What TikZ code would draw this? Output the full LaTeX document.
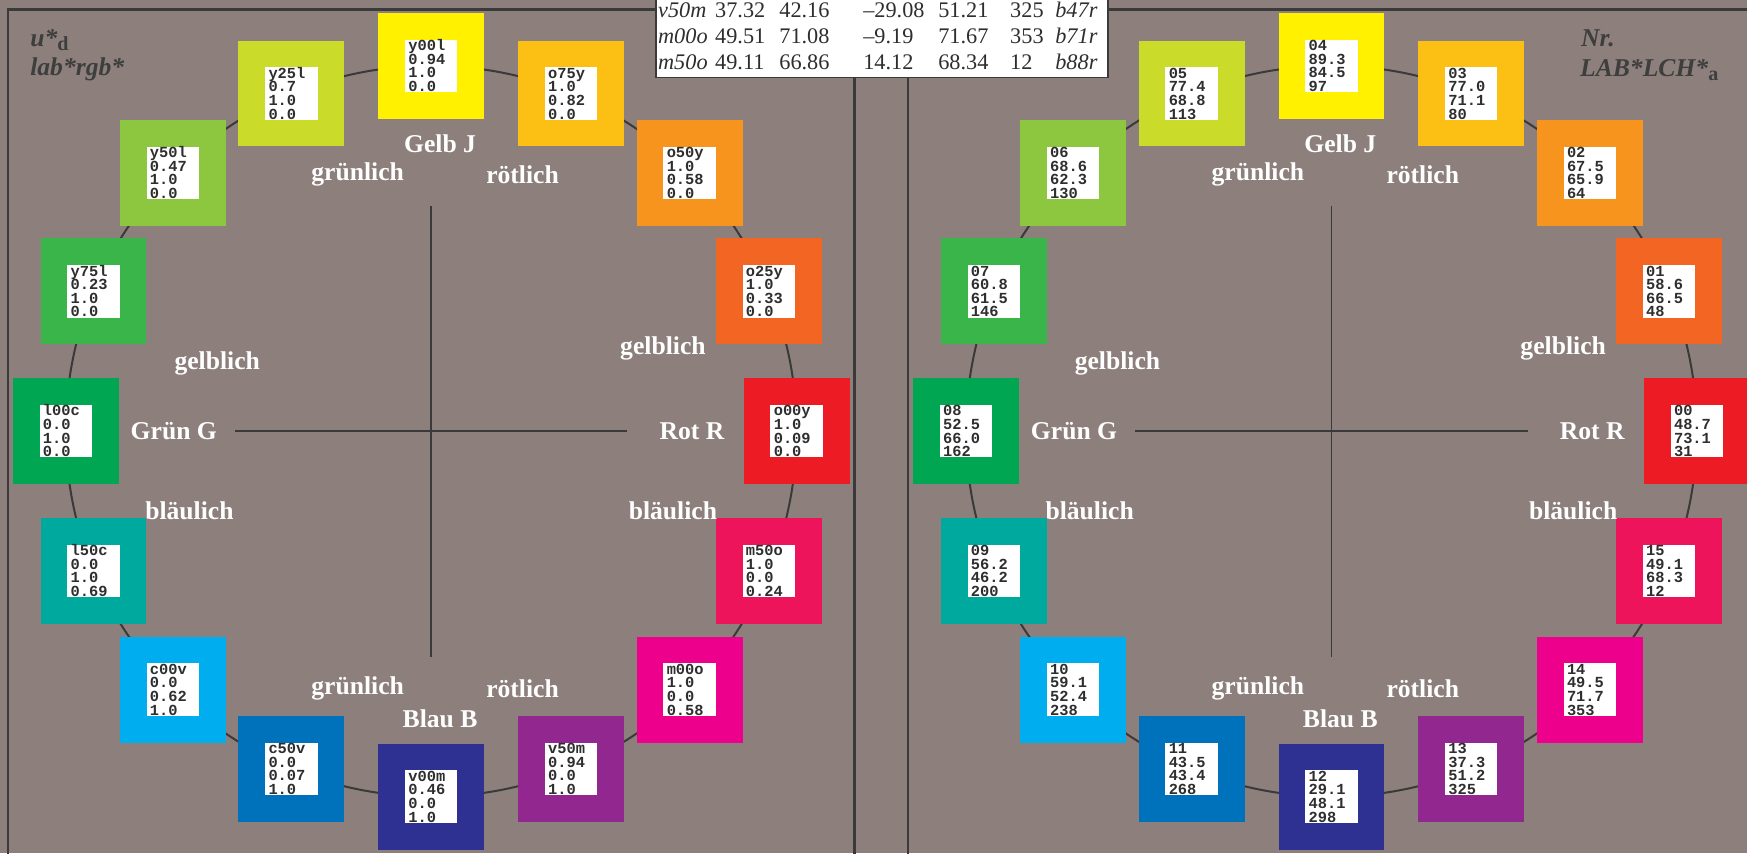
\documentclass[tikz,border=0pt]{standalone}
\usepackage{fontspec}
\setmainfont{Liberation Serif}
\setmonofont{Liberation Mono}
\definecolor{bg}{HTML}{8D807C}
\definecolor{linegray}{HTML}{3A3A3A}
\definecolor{lblgray}{HTML}{3E3E3E}
\definecolor{txtgray}{HTML}{2E2E2E}
\definecolor{c00}{HTML}{ED1C24}
\definecolor{c01}{HTML}{F26522}
\definecolor{c02}{HTML}{F7941D}
\definecolor{c03}{HTML}{FCC015}
\definecolor{c04}{HTML}{FFF100}
\definecolor{c05}{HTML}{CBDB2A}
\definecolor{c06}{HTML}{8DC63F}
\definecolor{c07}{HTML}{39B54A}
\definecolor{c08}{HTML}{00A651}
\definecolor{c09}{HTML}{00A99D}
\definecolor{c10}{HTML}{00AEEF}
\definecolor{c11}{HTML}{0072BC}
\definecolor{c12}{HTML}{2E3192}
\definecolor{c13}{HTML}{92278F}
\definecolor{c14}{HTML}{EC008C}
\definecolor{c15}{HTML}{ED145B}
\tikzset{
  lab/.style={text=white, font=\fontsize{23}{23}\selectfont\bfseries, inner sep=0pt},
  corner/.style={text=lblgray, font=\fontsize{23}{23}\selectfont\bfseries\itshape, inner sep=0pt, anchor=base west},
  boxtxt/.style={text=txtgray, font=\fontsize{13.8}{13.8}\selectfont\ttfamily\bfseries, inner sep=0pt, anchor=base west},
  colsq/.style={minimum size=95pt, inner sep=0pt, draw=none},
  whitebox/.style={fill=white, minimum size=47pt, inner sep=0pt},
  frameline/.style={line width=2pt, draw=linegray},
  circ/.style={line width=1.8pt, draw=linegray},
  cross/.style={line width=1.6pt, draw=linegray},
  tabtxt/.style={text=txtgray, font=\fontsize{20}{20}\selectfont, inner sep=0pt, anchor=base west},
}
\newcommand\colsquare[8]{%
  \node[colsq, fill=#4] (#1) at ({#2+328*cos(#3)},{387-328*sin(#3)}) {};
  \node[whitebox] (#1w) at (#1.center) {};
  \node[boxtxt] (#1a) at ([xshift=3pt,yshift=-10pt]#1w.north west) {#5};
  \node[boxtxt] (#1b) at ([yshift=-12.2pt]#1a.base west) {#6};
  \node[boxtxt] (#1c) at ([yshift=-12.2pt]#1b.base west) {#7};
  \node[boxtxt] (#1d) at ([yshift=-12.2pt]#1c.base west) {#8};
}
\newcommand\sidelabels[1]{%
  \node[lab] at (#1+8,129) {Gelb J};
  \node[lab] at (#1-66,157) {grünlich};
  \node[lab] at (#1+82,157) {rötlich};
  \node[lab] at (#1-192,326) {gelblich};
  \node[lab] at (#1+208,313) {gelblich};
  \node[lab] at (#1-231,387) {Grün G};
  \node[lab] at (#1+234,387) {Rot R};
  \node[lab] at (#1-217,458) {bläulich};
  \node[lab] at (#1+217,458) {bläulich};
  \node[lab] at (#1-66,618) {grünlich};
  \node[lab] at (#1+82,618) {rötlich};
  \node[lab] at (#1+8,645) {Blau B};
}
\begin{document}
\begin{tikzpicture}[x=1pt,y=-1pt]
\useasboundingbox (0,0) rectangle (1568,766);
\clip (0,0) rectangle (1568,766);
\fill[bg] (0,0) rectangle (1568,766);
% frame
\coordinate (FTL) at (7,8.5);
\coordinate (FTR) at (1570,8.5);
\coordinate (FBL) at (7,770);
\draw[frameline] (FTR) -- (FTL) -- (FBL);
\coordinate (M1t) at (767,69);
\coordinate (M1b) at (767,770);
\coordinate (M2t) at (815,69);
\coordinate (M2b) at (815,770);
\draw[frameline] (M1t) -- (M1b);
\draw[frameline] (M2t) -- (M2b);
% circles and crosses
\foreach \c/\n in {387/L,1195/R}{
  \coordinate (\n c) at (\c,387);
  \coordinate (\n W) at (\c-176,387);
  \coordinate (\n E) at (\c+176,387);
  \coordinate (\n N) at (\c,185);
  \coordinate (\n S) at (\c,590);
  \draw[circ] (\n c) circle[radius=328];
  \draw[cross] (\n W) -- (\n E);
  \draw[cross] (\n N) -- (\n S);
}
% left squares
\colsquare{o00y}{387}{0}{c00}{o00y}{1.0}{0.09}{0.0}
\colsquare{o25y}{387}{22.5}{c01}{o25y}{1.0}{0.33}{0.0}
\colsquare{o50y}{387}{45}{c02}{o50y}{1.0}{0.58}{0.0}
\colsquare{o75y}{387}{67.5}{c03}{o75y}{1.0}{0.82}{0.0}
\colsquare{y00l}{387}{90}{c04}{y00l}{0.94}{1.0}{0.0}
\colsquare{y25l}{387}{112.5}{c05}{y25l}{0.7}{1.0}{0.0}
\colsquare{y50l}{387}{135}{c06}{y50l}{0.47}{1.0}{0.0}
\colsquare{y75l}{387}{157.5}{c07}{y75l}{0.23}{1.0}{0.0}
\colsquare{l00c}{387}{180}{c08}{l00c}{0.0}{1.0}{0.0}
\colsquare{l50c}{387}{202.5}{c09}{l50c}{0.0}{1.0}{0.69}
\colsquare{c00v}{387}{225}{c10}{c00v}{0.0}{0.62}{1.0}
\colsquare{c50v}{387}{247.5}{c11}{c50v}{0.0}{0.07}{1.0}
\colsquare{v00m}{387}{270}{c12}{v00m}{0.46}{0.0}{1.0}
\colsquare{v50m}{387}{292.5}{c13}{v50m}{0.94}{0.0}{1.0}
\colsquare{m00o}{387}{315}{c14}{m00o}{1.0}{0.0}{0.58}
\colsquare{m50o}{387}{337.5}{c15}{m50o}{1.0}{0.0}{0.24}
% right squares
\colsquare{r00}{1195}{0}{c00}{00}{48.7}{73.1}{31}
\colsquare{r01}{1195}{22.5}{c01}{01}{58.6}{66.5}{48}
\colsquare{r02}{1195}{45}{c02}{02}{67.5}{65.9}{64}
\colsquare{r03}{1195}{67.5}{c03}{03}{77.0}{71.1}{80}
\colsquare{r04}{1195}{90}{c04}{04}{89.3}{84.5}{97}
\colsquare{r05}{1195}{112.5}{c05}{05}{77.4}{68.8}{113}
\colsquare{r06}{1195}{135}{c06}{06}{68.6}{62.3}{130}
\colsquare{r07}{1195}{157.5}{c07}{07}{60.8}{61.5}{146}
\colsquare{r08}{1195}{180}{c08}{08}{52.5}{66.0}{162}
\colsquare{r09}{1195}{202.5}{c09}{09}{56.2}{46.2}{200}
\colsquare{r10}{1195}{225}{c10}{10}{59.1}{52.4}{238}
\colsquare{r11}{1195}{247.5}{c11}{11}{43.5}{43.4}{268}
\colsquare{r12}{1195}{270}{c12}{12}{29.1}{48.1}{298}
\colsquare{r13}{1195}{292.5}{c13}{13}{37.3}{51.2}{325}
\colsquare{r14}{1195}{315}{c14}{14}{49.5}{71.7}{353}
\colsquare{r15}{1195}{337.5}{c15}{15}{49.1}{68.3}{12}
% labels
\sidelabels{387}
\sidelabels{1195}
% corner labels
\node[corner] (ud) at (27,42) {u*\raisebox{-3pt}{\fontsize{18}{18}\selectfont\upshape d}};
\node[corner] (labrgb) at (27,68) {lab*rgb*};
\node[corner] (nr) at (1419,42) {Nr.};
\node[corner] (lablch) at (1418,69) {LAB*LCH*\raisebox{-3pt}{\fontsize{18}{18}\selectfont\upshape a}};
% table
\node[draw=linegray, line width=1.4pt, fill=white, minimum width=406pt, minimum height=72pt, inner sep=0pt, anchor=north west] (tab) at (588,-3) {};
\foreach \y/\n/\a/\b/\c/\d/\e/\f in {16/v50m/37.32/42.16/--29.08/51.21/325/b47r,
                                    39/m00o/49.51/71.08/--9.19/71.67/353/b71r,
                                    62/m50o/49.11/66.86/14.12/68.34/12/b88r}{
  \node[tabtxt] at (590.5,\y) {\itshape\n};
  \node[tabtxt] at (641.7,\y) {\a};
  \node[tabtxt] at (699.3,\y) {\b};
  \node[tabtxt] at (774.6,\y) {\c};
  \node[tabtxt] at (842,\y) {\d};
  \node[tabtxt] at (906.5,\y) {\e};
  \node[tabtxt] at (947,\y) {\itshape\f};
}
\end{tikzpicture}
\end{document}
